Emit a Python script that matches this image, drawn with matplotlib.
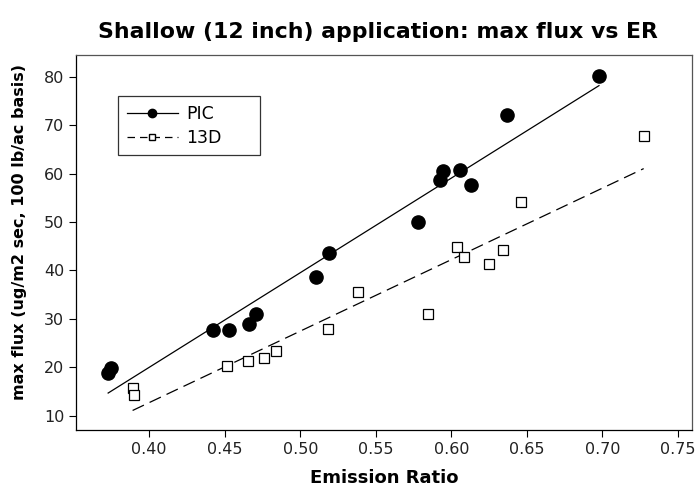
import numpy as np
import matplotlib
matplotlib.use("Agg")
import matplotlib.pyplot as plt

# PIC (filled circles)
pic_er = [0.3728, 0.3744, 0.442, 0.4528, 0.4658, 0.4705, 0.5104, 0.519,
          0.5777, 0.5925, 0.5947, 0.606, 0.6133, 0.6371, 0.6978]
pic_flux = [18.9, 19.8, 27.7, 27.7, 28.9, 31.0, 38.7, 43.5,
            50.0, 58.6, 60.6, 60.8, 57.7, 72.2, 80.2]

# 13D (open squares)
d13_er = [0.389, 0.3899, 0.4513, 0.4656, 0.476, 0.4839, 0.5183, 0.5382,
          0.5844, 0.6036, 0.6082, 0.6252, 0.6342, 0.6462, 0.7274]
d13_flux = [15.8, 14.3, 20.2, 21.4, 22.0, 23.3, 27.9, 35.6,
            31.1, 44.9, 42.7, 41.3, 44.2, 54.2, 67.8]

xticks = [0.40, 0.45, 0.50, 0.55, 0.60, 0.65, 0.70, 0.75]
yticks = [10, 20, 30, 40, 50, 60, 70, 80]

plt.rcParams['font.family'] = ['DejaVu Sans']

fig = plt.figure(figsize=(6.99, 4.87), dpi=100)
ax = fig.add_axes([0.1087, 0.117, 0.8813, 0.770])


def fit_line(x, y):
    x = np.asarray(x)
    b, a = np.polyfit(x, y, 1)
    xs = np.array([x.min(), x.max()])
    return xs, a + b * xs


xs, ys = fit_line(pic_er, pic_flux)
ax.plot(xs, ys, color='black', lw=0.9)
ax.plot(pic_er, pic_flux, 'o', color='black', ms=9.5, ls='none')

xs2, ys2 = fit_line(d13_er, d13_flux)
ax.plot(xs2, ys2, color='black', lw=0.9, dashes=(10, 5))
ax.plot(d13_er, d13_flux, 's', mfc='white', mec='black', mew=0.9, ms=6.5, ls='none')

# legend proxies
h1, = ax.plot([], [], color='black', lw=0.9, marker='o', ms=6, label='PIC')
h2, = ax.plot([], [], color='black', lw=0.9, dashes=(6, 4), marker='s', mfc='white',
              mec='black', ms=5, label='13D')
leg = ax.legend(handles=[h1, h2], loc='upper left',
                bbox_to_anchor=(0.069, 0.891, 0.229, 0.0), mode='expand',
                borderaxespad=0, frameon=True, fancybox=False, edgecolor='black',
                fontsize=12.5, handlelength=2.9, handletextpad=0.5, borderpad=0.5,
                labelspacing=0.35)
leg.get_frame().set_linewidth(0.9)

ax.set_xlim(0.3515, 0.7594)
ax.set_ylim(7.05, 84.48)
ax.set_xticks(xticks)
ax.set_xticklabels(['%.2f' % t for t in xticks])
ax.set_yticks(yticks)
ax.tick_params(labelsize=11.5, length=5, width=0.8, direction='out', labelcolor='#222222')
for s in ax.spines.values():
    s.set_linewidth(0.9)
ax.spines['top'].set_color('#555555')
ax.spines['right'].set_color('#555555')

ax.set_xlabel('Emission Ratio', fontsize=13, fontweight='bold', labelpad=8.5)
ax.set_ylabel('max flux (ug/m2 sec, 100 lb/ac basis)', fontsize=11.5, fontweight='bold')
ax.yaxis.set_label_coords(-0.079, 0.529)
ax.set_title('Shallow (12 inch) application: max flux vs ER', fontsize=15.8,
             fontweight='bold', pad=12, x=0.49)

fig.savefig('out.png', dpi=100)
